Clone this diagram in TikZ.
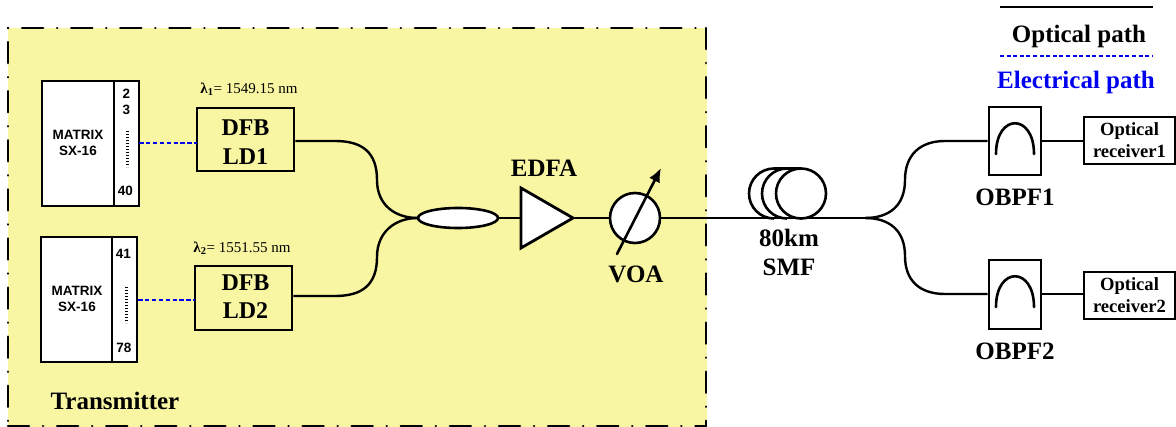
\documentclass[tikz,border=0pt]{standalone}
\usepackage{fontspec}
\setmainfont{Liberation Serif}
\setsansfont{Liberation Sans}
\usetikzlibrary{arrows.meta,shapes.geometric}
\definecolor{panel}{HTML}{F8F6A2}
\definecolor{epath}{HTML}{0000F0}
\tikzset{
  x=1pt,y=-1pt,
  wire/.style={line width=2.4pt,black},
  elec/.style={line width=2.8pt,epath,dash pattern=on 4.5pt off 2.4pt},
  box/.style={draw,line width=2.6pt,inner sep=0pt,minimum width=0pt},
  lab/.style={font=\bfseries\fontsize{25}{29}\selectfont,inner sep=0pt,align=center},
  dfb/.style={font=\bfseries\fontsize{24}{28.5}\selectfont,inner sep=0pt,align=center},
  rx/.style={font=\bfseries\fontsize{18.6}{22}\selectfont,inner sep=0pt,align=center},
  mat/.style={font=\sffamily\bfseries\fontsize{13.5}{15.5}\selectfont,inner sep=0pt,align=center},
  wl/.style={font=\fontsize{15}{17}\selectfont,inner sep=0pt},
  frameA/.style={line width=2.6pt,line cap=round,dash pattern=on 0.1pt off 14pt on 21pt off 14pt},
  frameB/.style={line width=2.6pt,line cap=round,dash pattern=on 21pt off 14pt on 0.1pt off 14pt},
  dots/.style={line width=3pt,dash pattern=on 1.4pt off 1.6pt},
  thickline/.style={line width=2.6pt},
}
\begin{document}
\begin{tikzpicture}
\useasboundingbox (0,0) rectangle (1176,427);
% panel
\fill[panel] (8,28) rectangle (707,427);
\coordinate (ctl) at (8,28); \coordinate (ctr) at (706,28);
\coordinate (cbl) at (8,426); \coordinate (cbr) at (706,426);
\draw[frameA] (ctl) -- (ctr);
\draw[frameA] (ctl) -- (cbl);
\draw[frameB] (ctr) -- (cbr);
\draw[frameB] (cbl) -- (cbr);
% matrix 1
\node[box,fill=white,minimum width=97pt,minimum height=125pt] (m1) at (90.5,143.5) {};
\draw[thickline] (114,81) -- (114,206);
\node[mat] (m1t) at (78,143) {MATRIX\\SX-16};
\node[mat] (p2) at (126.5,94) {2};
\node[mat] (p3) at (126.5,110) {3};
\node[mat] (p40) at (125.5,191) {40};
\draw[dots] (127,131) -- (127,167);
% matrix 2
\node[box,fill=white,minimum width=96pt,minimum height=125pt] (m2) at (89,299.5) {};
\draw[thickline] (112,237) -- (112,362);
\node[mat] (m2t) at (77,299) {MATRIX\\SX-16};
\node[mat] (p41) at (123.5,254) {41};
\node[mat] (p78) at (124,348) {78};
\draw[dots] (126,287) -- (126,323);
% lasers
\node[box,minimum width=97pt,minimum height=63pt] (d1) at (245.5,139.5) {};
\node[box,minimum width=97pt,minimum height=64pt] (d2) at (243.5,298) {};
\node[dfb] (d1t) at (245.5,142) {DFB\\LD1};
\node[dfb] (d2t) at (245.5,296.5) {DFB\\LD2};
\node[wl] (w1) at (249,89) {\textbf{λ}\textsubscript{\textbf{1}}= 1549.15 nm};
\node[wl] (w2) at (242,248) {\textbf{λ}\textsubscript{\textbf{2}}= 1551.55 nm};
\coordinate (m1e) at (139,143); \coordinate (d1w) at (197,143);
\coordinate (m2e) at (138,300); \coordinate (d2w) at (195,300);
\draw[elec] (m1e) -- (d1w);
\draw[elec] (m2e) -- (d2w);
% coupler, EDFA, VOA
\node[draw,line width=2.6pt,fill=white,ellipse,minimum width=80pt,minimum height=20pt,inner sep=0pt] (cp) at (458,218) {};
\coordinate (cpw) at (418,218);
\coordinate (e1) at (521,218);
\coordinate (e2) at (573,218);
\coordinate (voaw) at (610,218);
\coordinate (voae) at (660,218);
\coordinate (split) at (865,218);
\draw[wire] (d1.east |- 0,141) -- (335,141) .. controls (362,141) and (377,152) .. (377,180) .. controls (377,205) and (395,218) .. (cpw);
\draw[wire] (d2.east |- 0,296) -- (335,296) .. controls (362,296) and (377,285) .. (377,257) .. controls (377,232) and (395,218) .. (cpw);
\draw[wire] (cp.east) -- (e1);
\draw[wire] (e2) -- (voaw);
\draw[wire] (voae) -- (split);
\draw[line width=2.8pt,fill=white,line join=miter] (521,188) -- (521,248) -- (573,218) -- cycle;
\node[draw,line width=2.6pt,fill=white,circle,minimum size=50pt,inner sep=0pt] (voa) at (635,218) {};
\coordinate (arA) at (617,254); \coordinate (arB) at (661,168);
\draw[line width=2.6pt,-{Latex[length=14pt,width=12pt]},line cap=round] (arA) -- (arB);
\node[lab] (edfa) at (544,168) {EDFA};
\node[lab] (voat) at (636,274) {VOA};
\node[lab] (tx) at (115,401) {Transmitter};
% fibre coil
\draw[thickline] (774,168.5) arc[start angle=270,end angle=90,radius=25];
\draw[thickline] (787,168.5) arc[start angle=270,end angle=90,radius=25];
\draw[thickline] (774,168.5) -- (801,168.5);
\node[draw,line width=2.6pt,circle,minimum size=50pt,inner sep=0pt] (coil) at (801,193.5) {};
\node[lab] (smf) at (789,252) {80km\\SMF};
% filters
\node[box,minimum width=52pt,minimum height=68pt] (f1) at (1015,141) {};
\node[box,minimum width=52pt,minimum height=69pt] (f2) at (1015,294.5) {};
\draw[thickline,line cap=round] (996,154) .. controls (996,113) and (1034,113) .. (1034,154);
\draw[thickline,line cap=round] (996,307) .. controls (996,266) and (1034,266) .. (1034,307);
\node[lab] (f1t) at (1015,197) {OBPF1};
\node[lab] (f2t) at (1015,351) {OBPF2};
\node[box,rx,minimum width=91pt,minimum height=47pt] (r1) at (1129.5,140.5) {Optical\\receiver1};
\node[box,rx,minimum width=91pt,minimum height=47pt] (r2) at (1129.5,295.5) {Optical\\receiver2};
\draw[wire] (split) .. controls (890,218) and (905,205) .. (905,180) .. controls (905,155) and (920,141) .. (945,141) -- (f1.west |- 0,141);
\draw[wire] (split) .. controls (890,218) and (905,231) .. (905,256) .. controls (905,281) and (920,294) .. (945,294) -- (f2.west |- 0,294);
\draw[wire] (f1.east |- 0,141) -- (r1.west |- 0,141);
\draw[wire] (f2.east |- 0,294) -- (r2.west |- 0,294);
% legend
\coordinate (la) at (1000,7); \coordinate (lb) at (1153,7);
\coordinate (lc) at (1000,56); \coordinate (ld) at (1153,56);
\draw[thickline] (la) -- (lb);
\draw[line width=2.6pt,epath,dash pattern=on 4pt off 2.6pt] (lc) -- (ld);
\node[lab] (l1) at (1079,36) {Optical path};
\node[lab,text=epath] (l2) at (1076,82) {Electrical path};
\end{tikzpicture}
\end{document}
